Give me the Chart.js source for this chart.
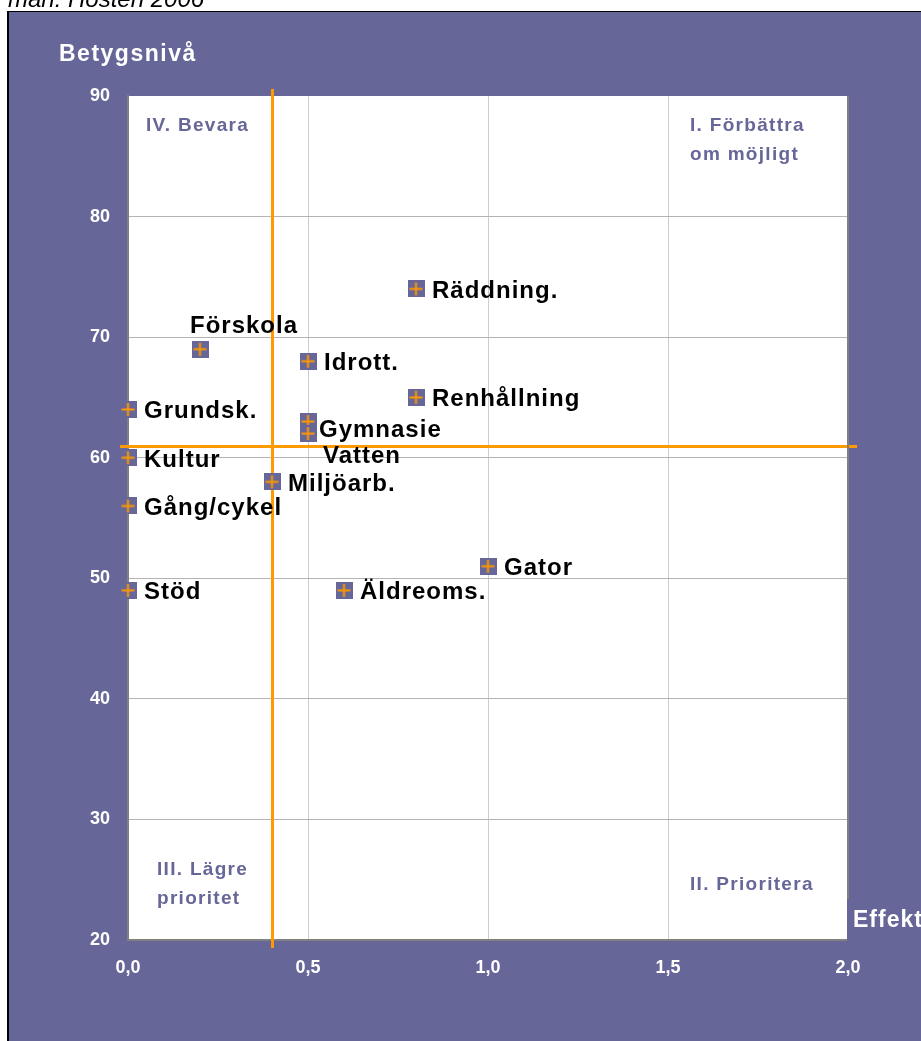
<!DOCTYPE html>
<html><head><meta charset="utf-8">
<script src="https://cdn.jsdelivr.net/npm/chart.js@4.4.0/dist/chart.umd.min.js"></script>
<style>html,body{margin:0;padding:0;background:#fff}#c{display:block}</style>
</head><body>
<canvas id="c" width="921" height="1041"></canvas>
<script>
// ---- data ----
const categories = ['Räddning.', 'Förskola', 'Idrott.', 'Renhållning', 'Grundsk.', 'Gymnasie', 'Vatten', 'Kultur', 'Miljöarb.', 'Gång/cykel', 'Gator', 'Äldreoms.', 'Stöd'];
const effekt = [0.8, 0.2, 0.5, 0.8, 0.0, 0.5, 0.5, 0.0, 0.4, 0.0, 1.0, 0.6, 0.0];
const betyg  = [74, 69, 68, 65, 64, 63, 62, 60, 58, 56, 51, 49, 49];
const labelAnchor = ['right', 'above', 'right', 'right', 'right', 'tight', 'below', 'right', 'right', 'right', 'right', 'right', 'right'];
const xThreshold = 0.4;
const yThreshold = 61;
const xTicks = [0, 0.5, 1.0, 1.5, 2.0];
const yTicks = [20, 30, 40, 50, 60, 70, 80, 90];
const quadrants = [
  {lines: ['IV. Bevara'], pos: 'tl'},
  {lines: ['I. Förbättra', 'om möjligt'], pos: 'tr'},
  {lines: ['III. Lägre', 'prioritet'], pos: 'bl'},
  {lines: ['II. Prioritera'], pos: 'br'}
];
const yTitle = 'Betygsnivå';
const xTitle = 'Effekt';
const topText = 'män: Hösten 2006';

const PURPLE = '#666699', ORANGE = '#ff9900';

// marker image
const mk = document.createElement('canvas');
mk.width = 17; mk.height = 17;
(function(){
  const g = mk.getContext('2d');
  g.fillStyle = PURPLE; g.fillRect(0,0,17,17);
  g.fillStyle = ORANGE;
  g.fillRect(2,7.5,13,2);
  g.fillRect(7.5,2,2,13);
})();

const bgPlugin = {
  id: 'bg',
  beforeDraw(chart){
    const ctx = chart.ctx, a = chart.chartArea;
    ctx.save();
    ctx.fillStyle = '#fff'; ctx.fillRect(0,0,chart.width,chart.height);
    ctx.fillStyle = '#000';
    ctx.font = 'italic 24px "Liberation Sans", Arial, sans-serif';
    ctx.textBaseline = 'alphabetic';
    ctx.fillText(topText, 8, 7);
    ctx.fillStyle = '#000';
    ctx.fillRect(7, 11, chart.width, chart.height);
    ctx.fillStyle = PURPLE;
    ctx.fillRect(9, 12, chart.width, chart.height);
    ctx.fillStyle = '#fff';
    ctx.fillRect(a.left, a.top, a.right - a.left, a.bottom - a.top);
    // y title
    ctx.fillStyle = '#fff';
    ctx.font = 'bold 23px "Liberation Sans", Arial, sans-serif';
    ctx.letterSpacing = '1.5px';
    ctx.fillText(yTitle, 59, 61);
    ctx.restore();
  },
  beforeDatasetsDraw(chart){
    const ctx = chart.ctx, a = chart.chartArea;
    const xs = chart.scales.x, ys = chart.scales.y;
    ctx.save();
    // quadrant labels
    ctx.fillStyle = PURPLE;
    ctx.font = 'bold 19px "Liberation Sans", Arial, sans-serif';
    ctx.letterSpacing = '1.3px';
    ctx.textBaseline = 'alphabetic';
    quadrants.forEach(q => {
      let x;
      if (q.pos === 'tl') x = a.left + 18;
      else if (q.pos === 'bl') x = a.left + 29;
      else x = a.left + 562;
      let y;
      if (q.pos === 'tl' || q.pos === 'tr') y = a.top + 35;
      else if (q.pos === 'bl') y = a.bottom - 65;
      else y = a.bottom - 50;
      q.lines.forEach((t, i) => ctx.fillText(t, x, y + i * 29));
    });
    // threshold lines
    ctx.strokeStyle = ORANGE; ctx.lineWidth = 3;
    const px = Math.round(xs.getPixelForValue(xThreshold)) + 0.5;
    const py = Math.round(ys.getPixelForValue(yThreshold)) + 0.5;
    ctx.beginPath();
    ctx.moveTo(px, a.top - 7); ctx.lineTo(px, a.bottom + 8);
    ctx.moveTo(a.left - 8, py); ctx.lineTo(a.right + 9, py);
    ctx.stroke();
    ctx.restore();
  },
  afterDatasetsDraw(chart){
    const ctx = chart.ctx, a = chart.chartArea;
    const meta = chart.getDatasetMeta(0);
    ctx.save();
    ctx.fillStyle = '#000';
    ctx.font = 'bold 24px "Liberation Sans", Arial, sans-serif';
    ctx.letterSpacing = '1px';
    ctx.textBaseline = 'alphabetic';
    meta.data.forEach((el, i) => {
      const t = categories[i];
      let x = el.x, y = el.y;
      switch (labelAnchor[i]) {
        case 'above': x -= 10; y -= 16; break;
        case 'tight': x += 11; y += 15; break;
        case 'below': x += 15; y += 29; break;
        default: x += 16; y += 9;
      }
      ctx.fillText(t, x, y);
    });
    // right border
    ctx.fillStyle = '#808080';
    ctx.fillRect(a.right - 1, a.top, 2, a.bottom - a.top + 1);
    // x title box
    ctx.fillStyle = PURPLE;
    ctx.fillRect(a.right - 1, a.bottom - 41, chart.width, 44);
    ctx.fillStyle = '#fff';
    ctx.font = 'bold 23px "Liberation Sans", Arial, sans-serif';
    ctx.letterSpacing = '1px';
    ctx.fillText(xTitle, a.right + 5, a.bottom - 13);
    ctx.restore();
  }
};

new Chart(document.getElementById('c'), {
  type: 'scatter',
  data: {
    datasets: [{
      data: effekt.map((v, i) => ({x: v, y: betyg[i]})),
      pointStyle: mk,
      pointRadius: 8,
      clip: false
    }]
  },
  options: {
    responsive: false,
    animation: false,
    events: [],
    layout: {padding: {top: 96, right: 73, left: 0, bottom: 0}},
    plugins: {legend: {display: false}, tooltip: {enabled: false}},
    scales: {
      x: {
        type: 'linear', min: 0, max: 2,
        afterBuildTicks(s){ s.ticks = xTicks.map(v => ({value: v})); },
        afterFit(s){ s.height = 101; },
        ticks: {
          color: '#fff', padding: 17,
          font: {family: '"Liberation Sans", Arial, sans-serif', size: 18, weight: 'bold'},
          callback: v => Number(v).toFixed(1).replace('.', ',')
        },
        grid: {
          drawTicks: false,
          color: c => (c.tick && (c.tick.value === 0 || c.tick.value === 2)) ? 'rgba(0,0,0,0)' : '#cccccc',
          lineWidth: 1
        },
        border: {display: true, color: '#808080', width: 2}
      },
      y: {
        type: 'linear', min: 20, max: 90,
        afterBuildTicks(s){ s.ticks = yTicks.map(v => ({value: v})); },
        afterFit(s){ s.width = 128; },
        ticks: {
          color: '#fff', padding: 18,
          font: {family: '"Liberation Sans", Arial, sans-serif', size: 18, weight: 'bold'},
          callback: v => String(v)
        },
        grid: {
          drawTicks: false,
          color: c => (c.tick && (c.tick.value === 90 || c.tick.value === 20)) ? 'rgba(0,0,0,0)' : '#b3b3b3',
          lineWidth: 1
        },
        border: {display: true, color: '#808080', width: 2}
      }
    }
  },
  plugins: [bgPlugin]
});
</script>
</body></html>
